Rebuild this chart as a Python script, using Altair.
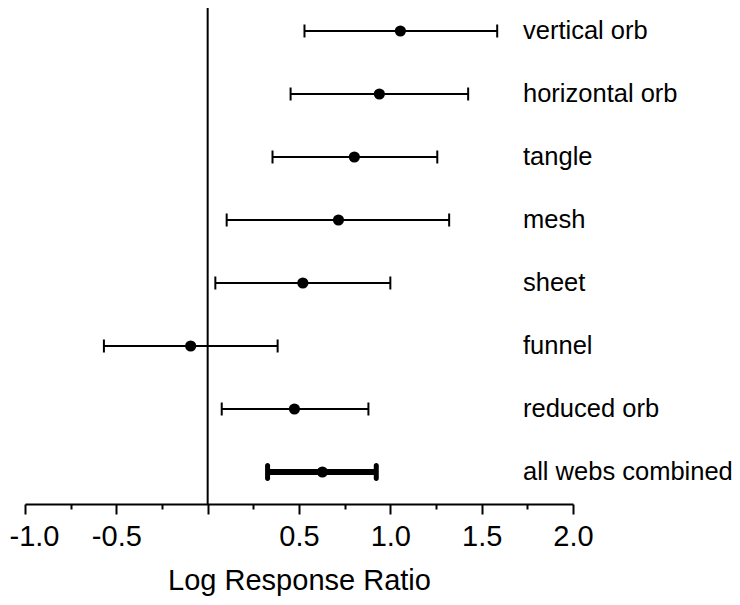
import altair as alt
import pandas as pd

labels = ["vertical orb", "horizontal orb", "tangle", "mesh", "sheet",
          "funnel", "reduced orb", "all webs combined"]
means = [1.055, 0.94, 0.803, 0.716, 0.521, -0.093, 0.475, 0.628]
lowers = [0.530, 0.454, 0.355, 0.104, 0.042, -0.568, 0.077, 0.328]
uppers = [1.585, 1.426, 1.257, 1.322, 1.000, 0.383, 0.880, 0.923]
tick_values = [-1.0, -0.75, -0.5, -0.25, 0.0, 0.25, 0.5, 0.75, 1.0, 1.25, 1.5, 1.75, 2.0]

df = pd.DataFrame({
    "label": labels,
    "row": list(range(len(labels))),
    "mean": means,
    "lower": lowers,
    "upper": uppers,
})

FONT = "Liberation Sans"

x_scale = alt.Scale(domain=[-1.0, 2.0], nice=False, zero=False)
y_scale = alt.Scale(domain=[-0.365, 7.508], nice=False, zero=False, reverse=True)

label_expr = ("(datum.value % 0.5 == 0 && datum.value != 0) ? "
              "(datum.value < 0 ? '-' + format(abs(datum.value), '.1f') : format(datum.value, '.1f')) : ''")

x_axis = alt.Axis(
    title="Log Response Ratio",
    values=tick_values,
    labelExpr=label_expr,
    labelFlush=False,
    labelOverlap=False,
    labelOffset={"condition": {"test": "datum.value == -1", "value": 9}, "value": 0},
    grid=False,
    domainColor="black",
    domainWidth=2,
    tickColor="black",
    tickWidth=2,
    tickSize={"condition": {"test": "datum.value % 0.5 == 0", "value": 10}, "value": 5},
    labelFont=FONT,
    labelFontSize=29,
    labelColor="black",
    labelPadding=8,
    titleFont=FONT,
    titleFontSize=29,
    titleFontWeight="normal",
    titleColor="black",
    titlePadding=15,
)

base = alt.Chart(df)
is_comb = "datum.label == 'all webs combined'"
not_comb = "datum.label != 'all webs combined'"

zero_line = alt.Chart(pd.DataFrame({"z": [0.0]})).mark_rule(
    color="black", strokeWidth=2
).encode(x=alt.X("z:Q", scale=x_scale, axis=x_axis))

bars = base.transform_filter(not_comb).mark_rule(color="black", strokeWidth=2).encode(
    x=alt.X("lower:Q", scale=x_scale, axis=x_axis),
    x2="upper:Q",
    y=alt.Y("row:Q", scale=y_scale, axis=None),
)
capl = base.transform_filter(not_comb).mark_tick(
    color="black", thickness=2, size=13, orient="vertical", opacity=1
).encode(x=alt.X("lower:Q", scale=x_scale), y=alt.Y("row:Q", scale=y_scale, axis=None))
capu = base.transform_filter(not_comb).mark_tick(
    color="black", thickness=2, size=13, orient="vertical", opacity=1
).encode(x=alt.X("upper:Q", scale=x_scale), y=alt.Y("row:Q", scale=y_scale, axis=None))

bars_c = base.transform_filter(is_comb).mark_rule(color="black", strokeWidth=6).encode(
    x=alt.X("lower:Q", scale=x_scale),
    x2="upper:Q",
    y=alt.Y("row:Q", scale=y_scale, axis=None),
)
capl_c = base.transform_filter(is_comb).mark_tick(
    color="black", thickness=5, size=18, orient="vertical", opacity=1, cornerRadius=2.5
).encode(x=alt.X("lower:Q", scale=x_scale), y=alt.Y("row:Q", scale=y_scale, axis=None))
capu_c = base.transform_filter(is_comb).mark_tick(
    color="black", thickness=5, size=18, orient="vertical", opacity=1, cornerRadius=2.5
).encode(x=alt.X("upper:Q", scale=x_scale), y=alt.Y("row:Q", scale=y_scale, axis=None))

points = base.mark_point(filled=True, color="black", size=125, opacity=1, shape="circle").encode(
    x=alt.X("mean:Q", scale=x_scale),
    y=alt.Y("row:Q", scale=y_scale, axis=None),
)

text = base.mark_text(
    align="left", baseline="middle", font=FONT, fontSize=25.5, color="black"
).encode(
    x=alt.value(498),
    y=alt.Y("row:Q", scale=y_scale, axis=None),
    text="label:N",
)

chart = alt.layer(zero_line, bars, capl, capu, bars_c, capl_c, capu_c, points, text).properties(
    width=548,
    height=496,
    autosize=alt.AutoSizeParams(type="none"),
    padding={"left": 17, "top": 0, "right": 159, "bottom": 93},
).configure(background="white").configure_view(stroke=None)

chart.save("out.html", embed_options={"renderer": "svg", "actions": False})
